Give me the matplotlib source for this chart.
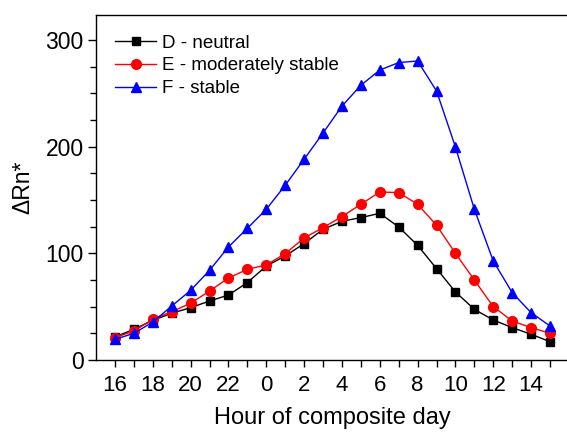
import numpy as np
import matplotlib; matplotlib.use("Agg")
import matplotlib.pyplot as plt

plt.rcParams["font.family"] = ["Liberation Sans", "DejaVu Sans"]

hours = [16, 17, 18, 19, 20, 21, 22, 23, 0, 1, 2, 3, 4, 5, 6, 7, 8, 9, 10, 11, 12, 13, 14, 15]
d_neutral = [21.6, 28.8, 37.2, 43.8, 49.1, 55.3, 60.9, 72.6, 88.1, 97.5, 109.1, 122.5,
             130.0, 133.5, 137.5, 124.7, 107.5, 85.7, 63.8, 47.5, 37.5, 30.4, 24.1, 17.2]
e_modstable = [21.0, 27.2, 38.2, 45.4, 53.2, 64.7, 76.9, 85.0, 89.1, 99.7, 114.4, 124.1,
               134.4, 146.0, 157.5, 156.9, 146.0, 126.3, 100.0, 75.0, 50.0, 36.6, 30.4, 25.0]
f_stable = [19.4, 25.0, 35.6, 50.6, 65.3, 84.1, 106.0, 123.5, 141.3, 163.8, 188.2, 212.8,
            238.0, 257.5, 271.8, 278.8, 280.3, 252.2, 199.7, 141.3, 92.8, 63.2, 44.4, 31.9]

x = np.arange(len(hours))
fig = plt.figure(figsize=(5.67, 4.33), dpi=100)
ax = fig.add_axes([96.1/567, 73/433, (568.9-96.1)/567, (360-15)/433])

ax.plot(x, d_neutral, "s-", color="black", lw=1, ms=6, label="D - neutral")
ax.plot(x, e_modstable, "o-", color="red", lw=1, ms=7, label="E - moderately stable")
ax.plot(x, f_stable, "^-", color="blue", lw=1, ms=7.5, label="F - stable")

ax.set_xlim(-1, 24)
ax.set_ylim(0, 323.4)
ax.set_xticks(x)
ax.set_xticklabels([str(h) if h % 2 == 0 else "" for h in hours], fontsize=16)
ax.set_yticks([0, 100, 200, 300])
ax.set_yticks(np.arange(0, 325, 25), minor=True)
ax.tick_params(axis="y", which="major", length=6, width=1, labelsize=16.5, direction="out", pad=3)
ax.tick_params(axis="y", which="minor", length=4, width=1, direction="out")
ax.tick_params(axis="x", which="major", length=5, width=1, direction="out", pad=6)
ax.spines["right"].set_visible(False)
for s in ("left", "bottom", "top"):
    ax.spines[s].set_linewidth(1)

ax.set_xlabel("Hour of composite day", fontsize=17, labelpad=8)
ax.set_ylabel("\u0394Rn*", fontsize=16.5, labelpad=8)
ax.legend(loc="upper left", frameon=False, fontsize=13.5, handlelength=2.2,
          handletextpad=0.3, labelspacing=0.3, borderaxespad=0.0,
          bbox_to_anchor=(0.024, 0.965))

fig.savefig("out.png", dpi=100)
